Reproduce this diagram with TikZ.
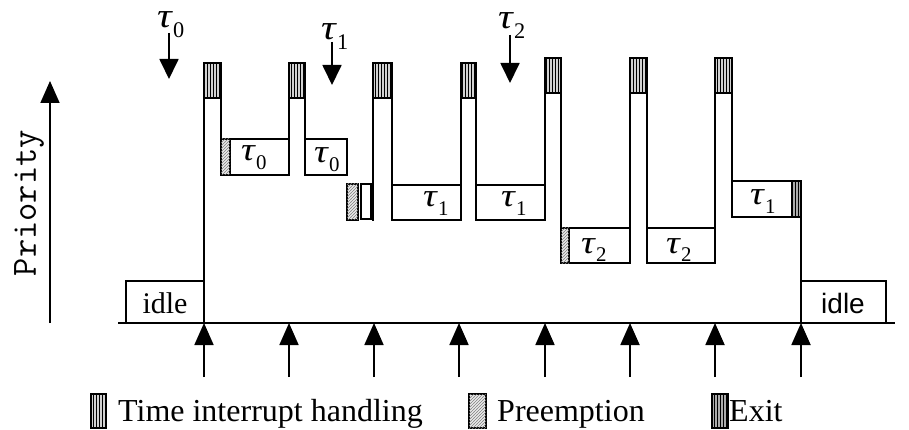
\documentclass[tikz,border=0pt]{standalone}
\usepackage{fontspec}
\setmainfont{Liberation Serif}
\newfontfamily\sansidle{Liberation Sans}
\usetikzlibrary{arrows.meta,patterns}

% task name: wide italic tau with a lowered index
\newcommand{\tk}[1]{\scalebox{1.32}[1.12]{\textit{τ}}\raisebox{-0.3em}{\scalebox{0.72}{#1}}}

\begin{document}
\begin{tikzpicture}[x=1pt,y=-1pt,
  trace/.style={line width=2.2pt, line join=miter, line cap=rect},
  upmark/.style={line width=1.8pt, -{Triangle[width=19pt,length=22pt]}},
  downmark/.style={line width=1.8pt, -{Triangle[width=19pt,length=20pt]}},
  irq/.style={fill=gray!35, postaction={pattern=vertical lines, pattern color=black}},
  preempt/.style={fill=gray!15, postaction={pattern=north east lines, pattern color=gray}},
  exitfill/.style={fill=gray!65, postaction={pattern=vertical lines, pattern color=black}},
  tasklbl/.style={inner sep=0pt, anchor=base west, font=\fontsize{29}{29}\selectfont},
  toplbl/.style={inner sep=0pt, anchor=base west, font=\fontsize{31}{31}\selectfont},
  legtxt/.style={inner sep=0pt, anchor=base west, font=\fontsize{32}{32}\selectfont},
]
\useasboundingbox (0,0) rectangle (909,430);

% priority axis and time axis
\coordinate (ax0) at (50,323);
\coordinate (ax1) at (50,81);
\draw[upmark] (ax0) -- (ax1);
\node[rotate=90, inner sep=0pt, font=\ttfamily\fontsize{35.5}{35.5}\selectfont] (prio) at (29,203) {Priority};
\coordinate (tl) at (118,323);
\coordinate (tr) at (895,323);
\draw[line width=2pt] (tl) -- (tr);

% task labels inside the execution boxes
\node[tasklbl] (l1) at (241,161) {\tk{0}};
\node[tasklbl] (l2) at (314,163) {\tk{0}};
\node[tasklbl] (l3) at (423,207) {\tk{1}};
\node[tasklbl] (l4) at (501,207) {\tk{1}};
\node[tasklbl] (l5) at (581,253) {\tk{2}};
\node[tasklbl] (l6) at (666,253) {\tk{2}};
\node[tasklbl] (l7) at (750,205) {\tk{1}};
\node[inner sep=0pt, anchor=base, font=\fontsize{30}{30}\selectfont] (idleL) at (165,313) {idle};
\node[inner sep=0pt, anchor=base, font=\sansidle\fontsize{28}{28}\selectfont] (idleR) at (843,313) {idle};

% execution boxes
\draw[trace] (126,281) rectangle (204,323);
\draw[trace] (221,139) rectangle (289,175);
\draw[trace,preempt] (221,139) rectangle (230,175);
\draw[trace] (305,139) rectangle (347,175);
\draw[trace,preempt] (347,184) rectangle (358,220);
\draw[trace] (361,184) rectangle (371,219);
\draw[trace] (392,185) rectangle (461,220);
\draw[trace] (476,185) rectangle (545,220);
\draw[trace] (561,228) rectangle (630,263);
\draw[trace,preempt] (561,228) rectangle (569,263);
\draw[trace] (647,228) rectangle (715,263);
\draw[trace] (732,181) rectangle (801,217);
\draw[trace,exitfill] (792,181) rectangle (801,217);
\draw[trace] (801,281) rectangle (886,323);

% timer interrupt columns
\draw[trace] (204,323) -- (204,63) -- (221,63) -- (221,139);
\draw[trace] (289,139) -- (289,63) -- (305,63) -- (305,139);
\draw[trace] (373,220) -- (373,63) -- (392,63) -- (392,220);
\draw[trace] (461,185) -- (461,63) -- (476,63) -- (476,185);
\draw[trace] (545,185) -- (545,58) -- (561,58) -- (561,228);
\draw[trace] (630,228) -- (630,58) -- (647,58) -- (647,228);
\draw[trace] (715,263) -- (715,58) -- (732,58) -- (732,181);
\draw[trace] (801,217) -- (801,281);
\foreach \xa/\xb in {204/221, 289/305, 373/392, 461/476}
  \draw[trace,irq] (\xa,63) rectangle (\xb,98);
\foreach \xa/\xb in {545/561, 630/647, 715/732}
  \draw[trace,irq] (\xa,58) rectangle (\xb,93);

% timer ticks
\foreach \i/\x in {1/204, 2/289, 3/374, 4/459, 5/545, 6/630, 7/715, 8/801} {
  \coordinate (tick\i b) at (\x,377);
  \coordinate (tick\i t) at (\x,323);
  \draw[upmark] (tick\i b) -- (tick\i t);
}

% task release marks
\node[toplbl] (r0) at (157,28) {\tk{0}};
\coordinate (r0a) at (169,33);
\coordinate (r0b) at (169,79);
\draw[downmark] (r0a) -- (r0b);
\node[toplbl] (r1) at (321,40) {\tk{1}};
\coordinate (r1a) at (332,42);
\coordinate (r1b) at (332,85);
\draw[downmark] (r1a) -- (r1b);
\node[toplbl] (r2) at (498,29) {\tk{2}};
\coordinate (r2a) at (510,35);
\coordinate (r2b) at (510,83);
\draw[downmark] (r2a) -- (r2b);

% legend
\draw[trace,irq] (91,394) rectangle (106,428);
\node[legtxt] (g1) at (118,421) {Time interrupt handling};
\draw[trace,preempt] (469,394) rectangle (486,428);
\node[legtxt] (g2) at (497,421) {Preemption};
\draw[trace,exitfill] (712,394) rectangle (728,428);
\node[legtxt] (g3) at (729,421) {Exit};
\end{tikzpicture}
\end{document}
